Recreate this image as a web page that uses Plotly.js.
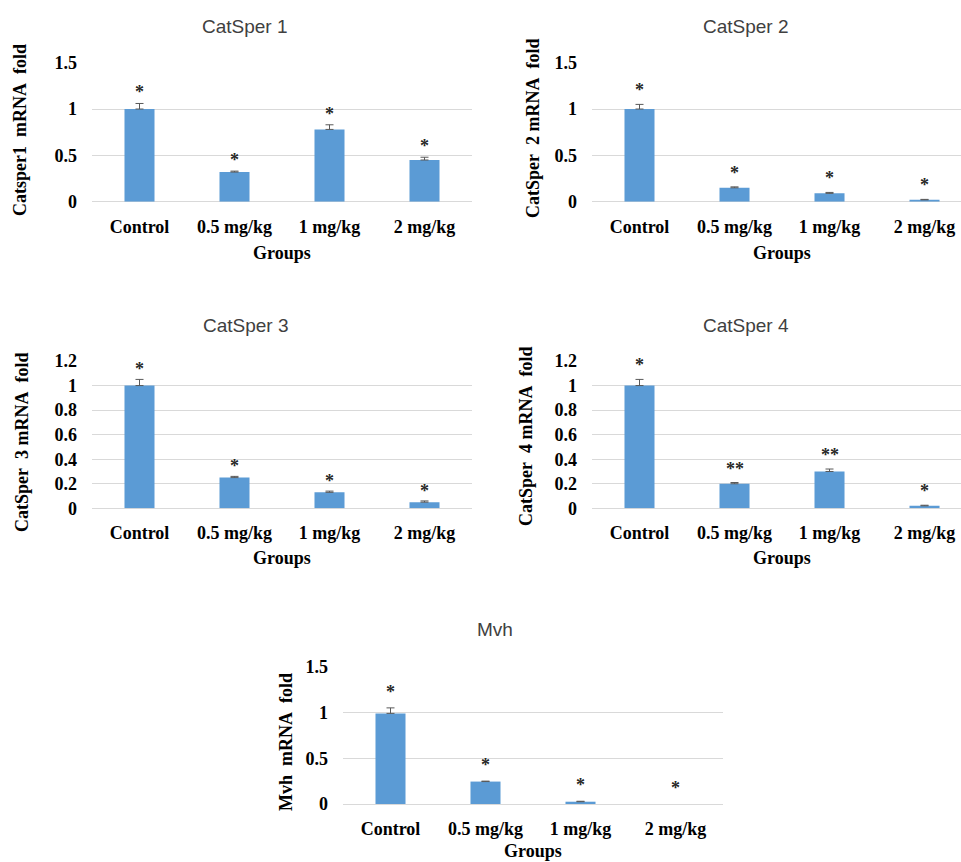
<!DOCTYPE html>
<html><head><meta charset="utf-8">
<script src="https://cdn.plot.ly/plotly-3.0.1.min.js"></script>
<style>html,body{margin:0;padding:0;background:#fff}#chart{width:961px;height:862px}</style>
</head><body><div id="chart"></div>
<script>
// ---- data ----
const groups = ['Control', '0.5 mg/kg', '1 mg/kg', '2 mg/kg'];

const catsper1 = [1.00, 0.32, 0.78, 0.45];
const catsper1Err = [0.06, 0.01, 0.05, 0.03];
const catsper1Sig = ['*', '*', '*', '*'];

const catsper2 = [1.00, 0.15, 0.09, 0.02];
const catsper2Err = [0.05, 0.01, 0.01, 0.005];
const catsper2Sig = ['*', '*', '*', '*'];

const catsper3 = [1.00, 0.25, 0.13, 0.05];
const catsper3Err = [0.05, 0.01, 0.01, 0.01];
const catsper3Sig = ['*', '*', '*', '*'];

const catsper4 = [1.00, 0.20, 0.30, 0.02];
const catsper4Err = [0.05, 0.01, 0.02, 0.005];
const catsper4Sig = ['*', '**', '**', '*'];

const mvh = [0.99, 0.245, 0.025, 0];
const mvhErr = [0.06, 0.005, 0.005, null];
const mvhSig = ['*', '*', '*', '*'];

const panelTitles = ['CatSper 1', 'CatSper 2', 'CatSper 3', 'CatSper 4', 'Mvh'];
const yTitles = ['Catsper1\u00a0 mRNA\u00a0 fold', 'CatSper\u00a0 2 mRNA\u00a0 fold',
                 'CatSper\u00a0 3 mRNA\u00a0 fold', 'CatSper\u00a0 4 mRNA\u00a0 fold', 'Mvh\u00a0 mRNA\u00a0 fold'];
const xTitle = 'Groups';

// ---- layout helpers ----
const W = 961, H = 862;
const serif = {family: 'Liberation Serif, Times New Roman, serif', size: 18, color: '#000', weight: 'bold'};
const titleFont = {family: 'Liberation Sans, Arial, sans-serif', size: 19, color: '#404040'};
const starFont = {family: 'Liberation Serif, Times New Roman, serif', size: 18, color: '#262626', weight: 'bold'};

const panels = [
  {vals: catsper1, errs: catsper1Err, sig: catsper1Sig, xpx: [92, 472], ypx: [62.7, 201.7], ymax: 1.5, dtick: 0.5,
   xr: [-0.5, 3.5], tpos: [245, 27], ytpos: [20, 130], gpos: [282, 253], sshift: 11},
  {vals: catsper2, errs: catsper2Err, sig: catsper2Sig, xpx: [592, 961], ypx: [62.7, 201.7], ymax: 1.5, dtick: 0.5,
   xr: [-0.5, 3.384], tpos: [746, 27], ytpos: [533, 128], gpos: [782, 253], sshift: 14},
  {vals: catsper3, errs: catsper3Err, sig: catsper3Sig, xpx: [92, 472], ypx: [361, 508.3], ymax: 1.2, dtick: 0.2,
   xr: [-0.5, 3.5], tpos: [246, 325], ytpos: [22, 442], gpos: [282, 558], sshift: 10},
  {vals: catsper4, errs: catsper4Err, sig: catsper4Sig, xpx: [592, 961], ypx: [361, 508.3], ymax: 1.2, dtick: 0.2,
   xr: [-0.5, 3.384], tpos: [746, 325], ytpos: [526, 436], gpos: [782, 558], sshift: 14},
  {vals: mvh, errs: mvhErr, sig: mvhSig, xpx: [343, 723], ypx: [666.7, 804], ymax: 1.5, dtick: 0.5,
   xr: [-0.5, 3.5], tpos: [495, 629], ytpos: [286, 742], gpos: [533, 851], sshift: 16}
];

const data = [];
const layout = {
  width: W, height: H, margin: {l: 0, r: 0, t: 0, b: 0},
  paper_bgcolor: '#fff', plot_bgcolor: '#fff', showlegend: false,
  bargap: 0.684, annotations: []
};

panels.forEach((p, i) => {
  const n = i === 0 ? '' : String(i + 1);
  data.push({
    type: 'bar', x: groups, y: p.vals, xaxis: 'x' + n, yaxis: 'y' + n,
    marker: {color: '#5b9bd5'},
    error_y: {type: 'data', symmetric: false,
              array: p.errs.map(e => (e === null ? NaN : e)),
              arrayminus: p.errs.map(e => (e === null ? NaN : 0)),
              color: '#595959', thickness: 1, width: 4},
    hoverinfo: 'skip'
  });
  layout['xaxis' + n] = {
    domain: [p.xpx[0] / W, Math.min(1, p.xpx[1] / W)], anchor: 'y' + n, type: 'category',
    range: p.xr, showgrid: false, showline: false, ticks: '', zeroline: false,
    tickfont: serif, ticklabelstandoff: 12, fixedrange: true
  };
  layout['yaxis' + n] = {
    domain: [1 - p.ypx[1] / H, 1 - p.ypx[0] / H], anchor: 'x' + n,
    range: [0, p.ymax], dtick: p.dtick, tick0: 0, showgrid: true, gridcolor: '#d9d9d9', gridwidth: 1,
    zeroline: true, zerolinecolor: '#d9d9d9', zerolinewidth: 1, showline: false, ticks: '',
    tickfont: serif, ticklabelstandoff: 14, fixedrange: true
  };
  // significance markers
  p.sig.forEach((s, j) => {
    layout.annotations.push({
      xref: 'x' + n, yref: 'y' + n, x: j, y: p.vals[j] + (p.errs[j] || 0), text: s, showarrow: false,
      yanchor: 'middle', yshift: p.sshift, font: starFont
    });
  });
  // panel title
  layout.annotations.push({xref: 'paper', yref: 'paper', x: p.tpos[0] / W, y: 1 - p.tpos[1] / H,
    text: panelTitles[i], showarrow: false, xanchor: 'center', yanchor: 'middle', font: titleFont});
  // y-axis title
  layout.annotations.push({xref: 'paper', yref: 'paper', x: p.ytpos[0] / W, y: 1 - p.ytpos[1] / H,
    text: yTitles[i], showarrow: false, xanchor: 'center', yanchor: 'middle', textangle: -90, font: serif});
  // x-axis title
  layout.annotations.push({xref: 'paper', yref: 'paper', x: p.gpos[0] / W, y: 1 - p.gpos[1] / H,
    text: xTitle, showarrow: false, xanchor: 'center', yanchor: 'middle', font: serif});
});

Plotly.newPlot('chart', data, layout, {staticPlot: true, displayModeBar: false});
</script></body></html>
